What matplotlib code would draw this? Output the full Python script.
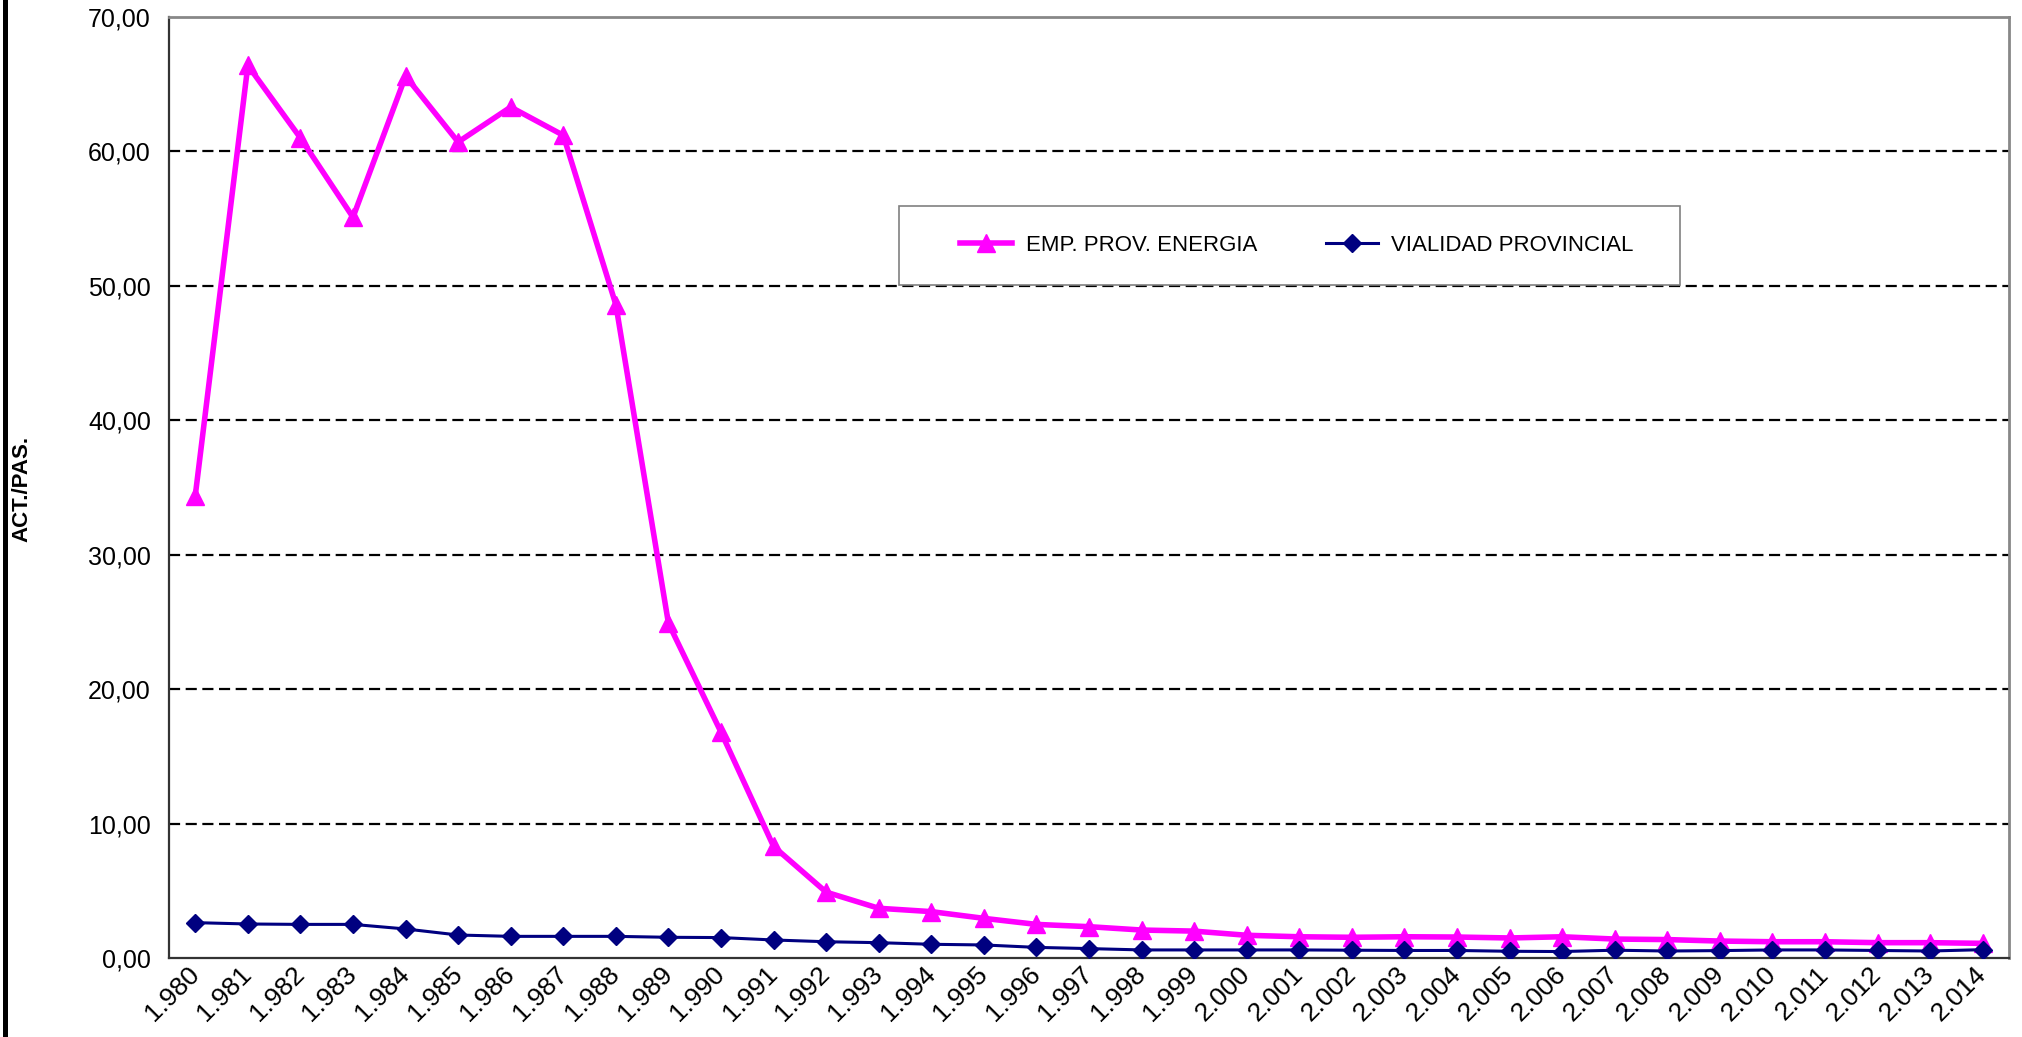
import numpy as np
import matplotlib
matplotlib.use('Agg')
import matplotlib.pyplot as plt
from matplotlib.patches import Rectangle

plt.rcParams['font.family'] = ['Liberation Sans', 'DejaVu Sans']

# datos
years = list(range(1980, 2015))
year_labels = ['%d.%03d' % (y // 1000, y % 1000) for y in years]

energia = [34.4, 66.4, 61.0, 55.1, 65.6, 60.7, 63.3, 61.2, 48.6, 24.9,
           16.8, 8.3, 4.9, 3.7, 3.45, 2.95, 2.5, 2.33, 2.08, 2.0,
           1.69, 1.58, 1.54, 1.58, 1.56, 1.49, 1.58, 1.41, 1.37, 1.26,
           1.21, 1.21, 1.14, 1.14, 1.09]
vialidad = [2.63, 2.53, 2.5, 2.5, 2.16, 1.71, 1.61, 1.61, 1.61, 1.54,
            1.52, 1.34, 1.21, 1.14, 1.02, 0.97, 0.79, 0.70, 0.60, 0.60,
            0.60, 0.60, 0.58, 0.56, 0.56, 0.50, 0.48, 0.58, 0.52, 0.55,
            0.60, 0.60, 0.56, 0.52, 0.62]

y_ticks = [0, 10, 20, 30, 40, 50, 60, 70]

W, H = 2022, 1037
fig = plt.figure(figsize=(W / 100, H / 100), dpi=100)
ax = fig.add_axes([169 / W, 1 - 958 / H, 1840 / W, 941 / H])

x = np.arange(len(years))
ax.plot(x, energia, color='#FF00FF', lw=4.0, marker='^', ms=12.5,
        label='EMP. PROV. ENERGIA', zorder=4)
ax.plot(x, vialidad, color='#000080', lw=2.2, marker='D', ms=9,
        label='VIALIDAD PROVINCIAL', zorder=5)

ax.set_xlim(-0.5, len(years) - 0.5)
ax.set_ylim(0, 70)
ax.set_yticks(y_ticks)
ax.set_yticklabels(['%d,00' % v for v in y_ticks], fontsize=18)
ax.set_xticks(x)
ax.set_xticklabels(year_labels, rotation=45, ha='right', va='center',
                   rotation_mode='anchor', fontsize=19)
ax.tick_params(axis='both', length=0)
ax.tick_params(axis='y', pad=13)
ax.tick_params(axis='x', pad=9)

for v in y_ticks[1:-1]:
    ax.axhline(v, color='black', lw=1.6, ls=(0, (5, 2.5)), zorder=1)

for s in ['left', 'bottom']:
    ax.spines[s].set_color('#333333')
    ax.spines[s].set_linewidth(1.6)
for s in ['top', 'right']:
    ax.spines[s].set_color('#888888')
    ax.spines[s].set_linewidth(2)

# caja de la leyenda
ax.add_patch(Rectangle((0.397, 0.715), 0.424, 0.084, transform=ax.transAxes,
                       facecolor='white', edgecolor='#808080', lw=1.2, zorder=6))
leg = ax.legend(loc='center', bbox_to_anchor=(0.613, 0.757), ncol=2,
                frameon=False, fontsize=16, handlelength=2.35,
                handletextpad=0.6, columnspacing=3.1)
leg.set_zorder(7)

fig.text(22 / W, 1 - 489 / H, 'ACT./PAS.', rotation=90, fontsize=16,
         fontweight='bold', ha='center', va='center')

# barra negra a la izquierda
fig.patches.append(Rectangle((3 / W, 0), 5 / W, 1, transform=fig.transFigure,
                             facecolor='black', edgecolor='none'))

fig.savefig('out.png', dpi=100)
